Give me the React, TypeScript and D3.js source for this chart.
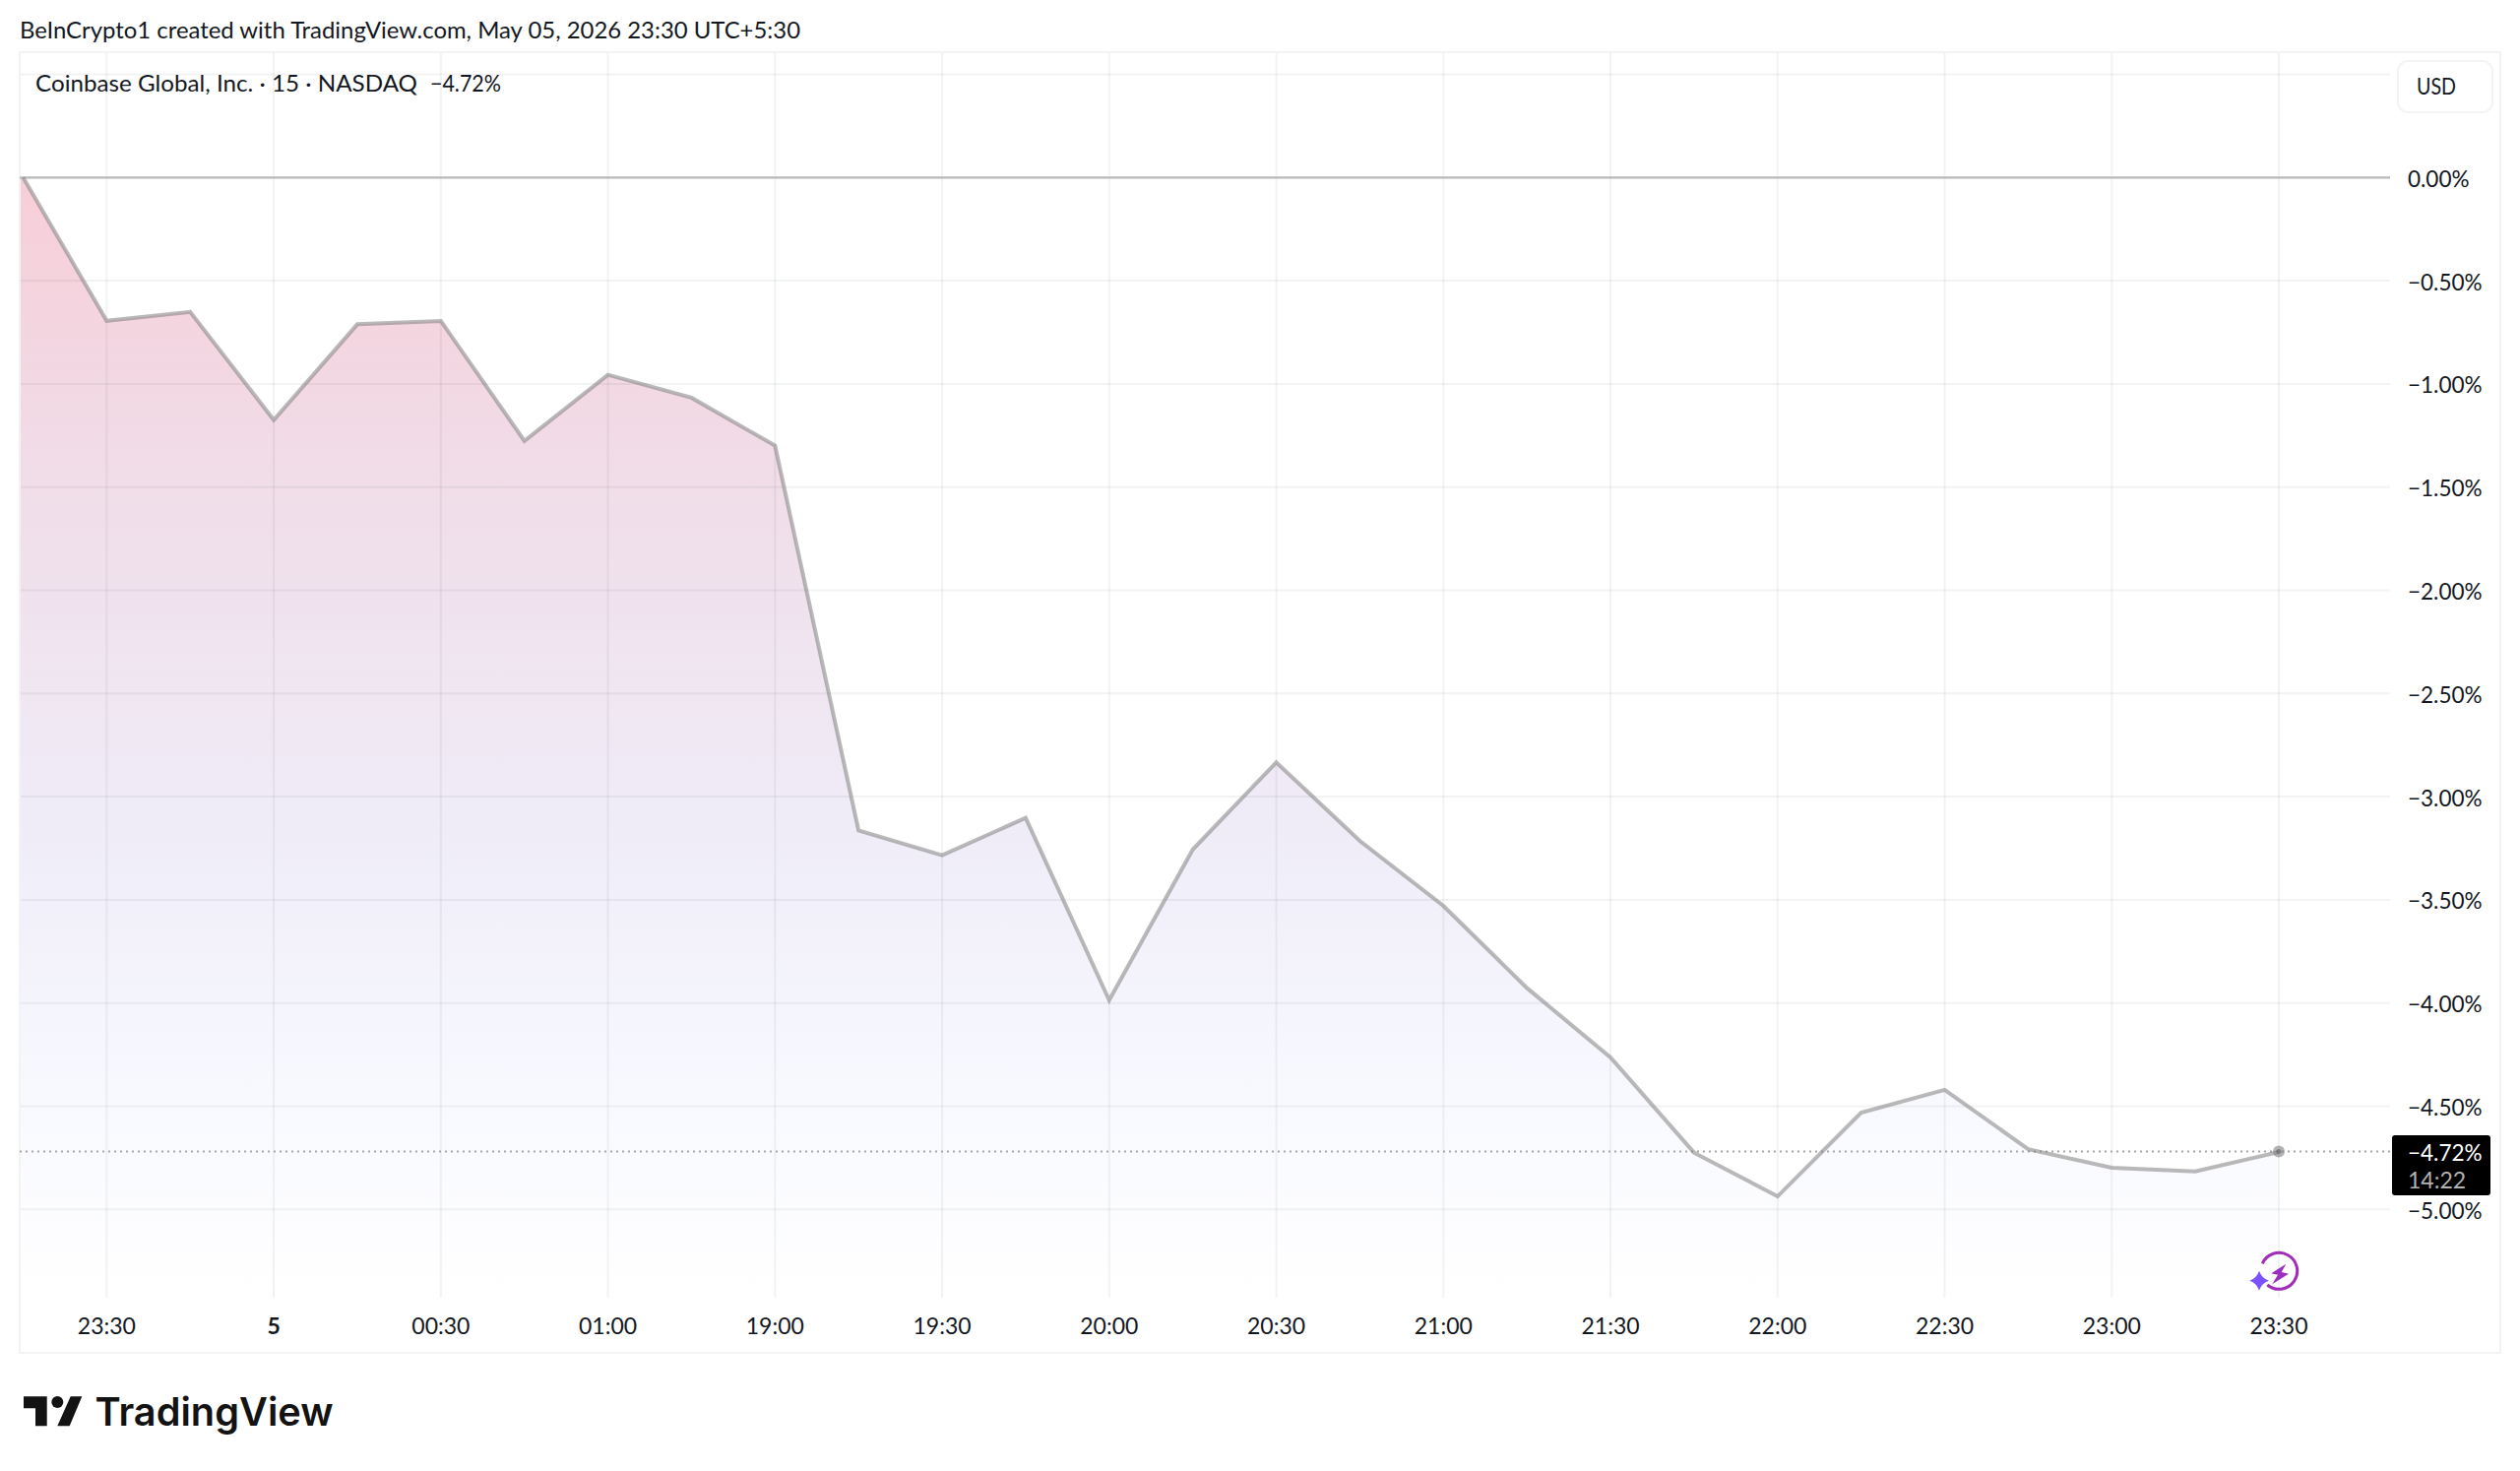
import React from "react";
import * as d3 from "d3";

const WIDTH = 2560;
const HEIGHT = 1494;
const FONT = "Lato, 'Noto Sans', sans-serif";

const timeLabels = ["23:30", "5", "00:30", "01:00", "19:00", "19:30", "20:00", "20:30", "21:00", "21:30", "22:00", "22:30", "23:00", "23:30"];
const percentChange = [
  0, -0.694, -0.651, -1.175, -0.711, -0.695, -1.276, -0.956, -1.067, -1.299,
  -3.164, -3.284, -3.103, -3.986, -3.256, -2.834, -3.214, -3.529, -3.927, -4.264,
  -4.725, -4.937, -4.531, -4.421, -4.708, -4.798, -4.816, -4.722,
];
const gridValues = [0.5, -0.5, -1, -1.5, -2, -2.5, -3, -3.5, -4, -4.5, -5];
const labelValues = [0, -0.5, -1, -1.5, -2, -2.5, -3, -3.5, -4, -4.5, -5];
const lastValue = -4.72;
const lastLabel = "−4.72%";
const countdown = "14:22";
const headerText = "BeInCrypto1 created with TradingView.com, May 05, 2026 23:30 UTC+5:30";
const legendText = "Coinbase Global, Inc. · 15 · NASDAQ";
const gradientStops: [string, string][] = [
  ["0%", "#f7ced8"],
  ["27%", "#f0dde8"],
  ["58%", "#efecf8"],
  ["80%", "#f7f8fe"],
  ["100%", "#ffffff"],
];

const x = d3.scaleLinear().domain([0, percentChange.length - 1]).range([23.5, 2315]);
const y = d3.scaleLinear().domain([0, -5]).range([180.3, 1228.3]);
const fmt = (v: number) => (v < 0 ? "−" : "") + Math.abs(v).toFixed(2) + "%";

const PLOT = { left: 20, right: 2428, top: 53, bottom: 1318 };

export default function App() {
  const pts = percentChange.map((v, i) => [x(i), y(v)] as [number, number]);
  const line = d3.line()(pts)!;
  const areaPts = [[PLOT.left, y(percentChange[0])] as [number, number], ...pts];
  const area = d3.area().y0(PLOT.bottom).x((d: any) => d[0]).y1((d: any) => d[1])(areaPts)!;
  return (
    <svg width={WIDTH} height={HEIGHT} viewBox={`0 0 ${WIDTH} ${HEIGHT}`}
      style={{ position: "absolute", left: 0, top: 0, display: "block", background: "#fff" }} fontFamily={FONT}>
      <defs>
        <linearGradient id="areaFill" gradientUnits="userSpaceOnUse" x1="0" x2="0" y1={y(0)} y2={PLOT.bottom}>
          {gradientStops.map(([o, c]) => <stop key={o} offset={o} stopColor={c} />)}
        </linearGradient>
      </defs>
      <text x={20} y={38.5} fontSize={23} fill="#131722" textLength={793} lengthAdjust="spacingAndGlyphs">{headerText}</text>

      <path d={area} fill="url(#areaFill)" />
      {gridValues.map((v) => (
        <line key={v} x1={PLOT.left} x2={PLOT.right} y1={y(v)} y2={y(v)} stroke="rgba(42,46,57,0.06)" strokeWidth={2} />
      ))}
      {timeLabels.map((t, i) => (
        <line key={i} x1={x(2 * i + 1)} x2={x(2 * i + 1)} y1={PLOT.top} y2={PLOT.bottom} stroke="rgba(42,46,57,0.06)" strokeWidth={2} />
      ))}
      <rect x={20} y={53} width={2520} height={1321} fill="none" stroke="#f3f3f3" strokeWidth={2} />

      <line x1={PLOT.left} x2={PLOT.right} y1={y(0)} y2={y(0)} stroke="#b9b9b9" strokeWidth={2.2} />
      <line x1={PLOT.left} x2={PLOT.right} y1={y(lastValue)} y2={y(lastValue)} stroke="#a8a8a8" strokeWidth={2} strokeDasharray="2 4" />
      <path d={line} fill="none" stroke="rgba(128,128,128,0.55)" strokeWidth={4} strokeLinejoin="miter" />
      <circle cx={x(percentChange.length - 1)} cy={y(lastValue)} r={6} fill="rgba(128,128,128,0.6)" />
      <circle cx={x(percentChange.length - 1)} cy={y(lastValue)} r={2.5} fill="rgba(100,100,100,0.6)" />

      <text x={36} y={92.5} fontSize={23} fill="#131722" textLength={388} lengthAdjust="spacingAndGlyphs">{legendText}</text>
      <text x={437} y={92.5} fontSize={23} fill="#131722" textLength={72} lengthAdjust="spacingAndGlyphs">{lastLabel}</text>

      <rect x={2436} y={62} width={96} height={52} rx={10} fill="#fff" stroke="#f3f3f3" strokeWidth={2} />
      <text x={2455} y={96} fontSize={23} fill="#131722" textLength={40} lengthAdjust="spacingAndGlyphs">USD</text>

      {labelValues.map((v) => (
        <text key={v} x={2446} y={y(v) + 9.5} fontSize={22.5} fill="#131722">{fmt(v)}</text>
      ))}
      <rect x={2430} y={1153} width={100} height={61} rx={3} fill="#000" />
      <text x={2446} y={1179} fontSize={22.5} fill="#fff">{lastLabel}</text>
      <text x={2446} y={1207} fontSize={23} fill="#b2b2b2">{countdown}</text>

      {timeLabels.map((t, i) => (
        <text key={i} x={x(2 * i + 1)} y={1355} fontSize={23} textAnchor="middle" fill="#131722" fontWeight={t === "5" ? 700 : 400}>{t}</text>
      ))}

      <path d="M2298.3 1283.3 A18.5 18.5 0 1 1 2303.3 1305" fill="none" stroke="#a02db8" strokeWidth={3} />
      <path d="M2322.3 1283.7 L2307.3 1293.3 L2314 1294.7 L2308.3 1304.3 L2325 1293.7 L2317.7 1292 Z" fill="#9b2fc0" />
      <path d="M2295 1290.7 Q2297.5 1298.2 2305 1300.7 Q2297.5 1303.2 2295 1310.7 Q2292.5 1303.2 2285 1300.7 Q2292.5 1298.2 2295 1290.7 Z" fill="#7a52ff" />

      <path d="M24 1418.3H47.7V1448.3H36V1430.3H24Z M71.7 1418.3H83.3L70.7 1448.3H58.3Z" fill="#131313" />
      <circle cx={58.3} cy={1424} r={6} fill="#131313" />
      <text x={96.5} y={1448.3} fontSize={40} fontFamily="Inter, sans-serif" fontWeight={600} fill="#131313" textLength={242} lengthAdjust="spacingAndGlyphs">TradingView</text>
    </svg>
  );
}
